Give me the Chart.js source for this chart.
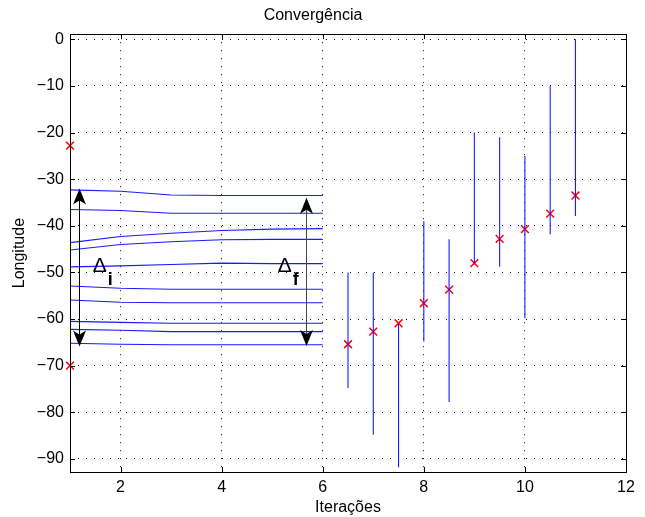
<!DOCTYPE html>
<html><head><meta charset="utf-8">
<script src="https://cdn.jsdelivr.net/npm/chart.js@4/dist/chart.umd.min.js"></script>
<style>html,body{margin:0;padding:0;background:#fff}#wrap{width:645px;height:517px}</style>
</head><body><div id="wrap"><canvas id="c" width="645" height="517"></canvas></div>
<script>
// ---- data ----
const iterations = [1, 2, 3, 4, 5, 6];
const traj1  = [-32.3, -32.6, -33.4, -33.5, -33.5, -33.5];
const traj2  = [-36.5, -36.7, -37.3, -37.3, -37.3, -37.3];
const traj3  = [-43.6, -42.3, -41.6, -41.0, -40.7, -40.6];
const traj4  = [-45.2, -44.0, -43.4, -43.0, -42.9, -42.9];
const traj5  = [-48.8, -48.6, -48.3, -48.0, -48.1, -48.1];
const traj6  = [-52.9, -53.4, -53.6, -53.6, -53.6, -53.6];
const traj7  = [-55.9, -56.4, -56.5, -56.5, -56.5, -56.5];
const traj8  = [-60.5, -60.7, -60.9, -60.9, -60.9, -60.9];
const traj9  = [-62.2, -62.4, -62.7, -62.7, -62.7, -62.7];
const traj10 = [-65.2, -65.4, -65.5, -65.5, -65.5, -65.5];

const barX      = [6.5, 7, 7.5, 8, 8.5, 9, 9.5, 10, 10.5, 11];
const barLow    = [-74.8, -84.8, -91.8, -64.8, -77.8, -48.3, -48.8, -59.8, -41.8, -37.9];
const barHigh   = [-50.0, -50.0, -60.9, -39.0, -42.9, -20.0, -21.0, -25.0, -10.0, 0.0];
const estimateY = [-65.4, -62.7, -60.9, -56.6, -53.7, -48.0, -42.8, -40.7, -37.4, -33.5];

const initialX = [1, 1];
const initialY = [-22.8, -70.0];

const xTicks = [2, 4, 6, 8, 10, 12];
const yTicks = [0, -10, -20, -30, -40, -50, -60, -70, -80, -90];

const arrowX      = [1.18, 5.66];
const arrowTop    = [-32.0, -34.0];
const arrowBottom = [-65.9, -65.8];
const arrowColor  = ['#000000', '#444444'];
const deltaX   = [1.45, 5.11];
const deltaY   = [-49.8, -49.8];
const deltaSub = ['i', 'f'];

// ---- build datasets ----
const trajectories = [traj1, traj2, traj3, traj4, traj5, traj6, traj7, traj8, traj9, traj10];
const lineSets = trajectories.map(t => ({
  data: iterations.map((x, i) => ({x: x, y: t[i]})),
  showLine: true, borderColor: '#1a1aff', borderWidth: 1.1, pointRadius: 0, tension: 0
}));
const barPts = [];
barX.forEach((x, i) => {
  barPts.push({x: x, y: barLow[i]});
  barPts.push({x: x, y: barHigh[i]});
  barPts.push({x: x, y: null});
});
const FONT = '"Liberation Sans", Arial, Helvetica, sans-serif';

const overlay = {
  id: 'overlay',
  afterDraw(chart) {
    const ctx = chart.ctx, a = chart.chartArea;
    const xs = chart.scales.x, ys = chart.scales.y;
    ctx.save();
    // inward tick marks
    ctx.strokeStyle = '#000'; ctx.lineWidth = 1;
    ctx.beginPath();
    xTicks.forEach(v => {
      const p = Math.round(xs.getPixelForValue(v)) + 0.5;
      ctx.moveTo(p, a.bottom); ctx.lineTo(p, a.bottom - 5);
      ctx.moveTo(p, a.top); ctx.lineTo(p, a.top + 5);
    });
    yTicks.forEach(v => {
      const p = Math.round(ys.getPixelForValue(v)) + 0.5;
      ctx.moveTo(a.left, p); ctx.lineTo(a.left + 5, p);
      ctx.moveTo(a.right, p); ctx.lineTo(a.right - 5, p);
    });
    ctx.stroke();
    // frame
    ctx.strokeRect(Math.round(a.left) + 0.5, Math.round(a.top) + 0.5,
                   Math.round(a.right - a.left), Math.round(a.bottom - a.top));
    // double arrows
    const L = 16, W = 6.5, N = 4;
    const head = (x, y, dir) => {
      ctx.beginPath();
      ctx.moveTo(x, y);
      ctx.lineTo(x - W, y - dir * L);
      ctx.lineTo(x, y - dir * (L - N));
      ctx.lineTo(x + W, y - dir * L);
      ctx.closePath();
      ctx.fill();
    };
    arrowX.forEach((v, i) => {
      const px = Math.round(xs.getPixelForValue(v)) + 0.5;
      const t = ys.getPixelForValue(arrowTop[i]);
      const b = ys.getPixelForValue(arrowBottom[i]);
      ctx.strokeStyle = arrowColor[i]; ctx.lineWidth = 1;
      ctx.beginPath(); ctx.moveTo(px, t + 6); ctx.lineTo(px, b - 6); ctx.stroke();
      ctx.fillStyle = '#000';
      head(px, t, -1);
      head(px, b, 1);
    });
    // delta labels
    ctx.fillStyle = '#000';
    ctx.textBaseline = 'alphabetic'; ctx.textAlign = 'left';
    deltaX.forEach((v, i) => {
      const px = xs.getPixelForValue(v), py = ys.getPixelForValue(deltaY[i]);
      ctx.font = '21px ' + FONT;
      ctx.fillText('\u0394', px, py);
      const w = ctx.measureText('\u0394').width;
      ctx.font = 'bold 18px ' + FONT;
      ctx.fillText(deltaSub[i], px + w + 1, py + 13);
    });
    ctx.restore();
  }
};

new Chart(document.getElementById('c'), {
  type: 'scatter',
  data: {
    datasets: [
      ...lineSets,
      { data: barPts, showLine: true, spanGaps: false, borderColor: '#1a1aff', borderWidth: 1.1, pointRadius: 0 },
      { data: barX.map((x, i) => ({x: x, y: estimateY[i]})), pointStyle: 'crossRot', pointRadius: 5.5,
        borderColor: '#ff0000', backgroundColor: '#ff0000', pointBorderWidth: 1.5, showLine: false, clip: false },
      { data: initialX.map((x, i) => ({x: x, y: initialY[i]})), pointStyle: 'crossRot', pointRadius: 5.5,
        borderColor: '#ff0000', backgroundColor: '#ff0000', pointBorderWidth: 1.5, showLine: false, clip: false }
    ]
  },
  options: {
    responsive: false, animation: false, devicePixelRatio: 1,
    layout: { padding: { left: 0, right: 19, top: 0, bottom: 0 } },
    plugins: {
      legend: { display: false }, tooltip: { enabled: false },
      title: { display: true, text: 'Convergência', color: '#000',
               font: { family: FONT, size: 16, weight: 'normal' }, padding: { top: 6, bottom: 9 } }
    },
    scales: {
      x: {
        type: 'linear', min: 1, max: 12,
        afterBuildTicks: s => { s.ticks = xTicks.map(v => ({value: v})); },
        afterFit: s => { s.height = 45; },
        ticks: { color: '#000', font: { family: FONT, size: 16 }, padding: 6, maxRotation: 0,
                 callback: v => String(v) },
        grid: { color: '#000', lineWidth: 1, drawTicks: false },
        border: { display: false, dash: [1, 7] },
        title: { display: true, text: 'Iterações', color: '#000',
                 font: { family: FONT, size: 16 }, padding: { top: 0, bottom: 0 } }
      },
      y: {
        type: 'linear', min: -92.8, max: 1.1,
        afterBuildTicks: s => { s.ticks = yTicks.map(v => ({value: v})); },
        afterFit: s => { s.width = 70; },
        ticks: { color: '#000', font: { family: FONT, size: 16 }, padding: 6,
                 callback: v => (v < 0 ? '\u2212' + Math.abs(v) : String(v)) },
        grid: { color: '#000', lineWidth: 1, drawTicks: false },
        border: { display: false, dash: [1, 7] },
        title: { display: true, text: 'Longitude', color: '#000',
                 font: { family: FONT, size: 16 }, padding: { top: 10, bottom: 0 } }
      }
    }
  },
  plugins: [overlay]
});
</script></body></html>
